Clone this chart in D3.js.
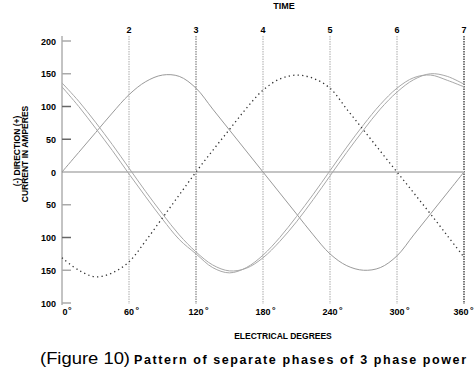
<!DOCTYPE html>
<html><head><meta charset="utf-8">
<script src="https://cdn.jsdelivr.net/npm/d3@7"></script>
<style>body{margin:0;background:#fff}svg{display:block}text{fill:#000}</style>
</head><body>
<script>
// ---- data ----
const degrees = [0,15,30,45,60,75,90,105,120,135,150,165,180,195,210,225,240,255,270,285,300,315,330,345,360];
const phaseA  = [0,30,60,90,118,138,148,146,128,96,64,32,0,-32,-64,-96,-125,-143,-150,-146,-128,-96,-64,-32,0];
const phaseB  = [136,108,76,42,6,-30,-64,-96,-122,-142,-151,-147,-131,-106,-76,-42,-6,30,64,96,122,141,150,146,134];
const phaseB2 = [130,100,67,33,-3,-38,-72,-103,-125,-146,-154,-146,-127,-100,-68,-34,2,38,72,103,128,144,148,140,130];
const phaseC  = [-131,-150,-160,-154,-137,-105,-70,-35,0,33,65,97,125,142,148,143,128,96,64,32,0,-32,-64,-97,-130];
const yTickValues = [200,150,100,50,0,-50,-100,-150,-200];
const yTickLabels = ["200","150","100","50","0","50","100","150","100"];
const degTicks = [0,60,120,180,240,300,360];
const degLabels = ["0","60","120","180","240","300","360"];
const timeTicks = [60,120,180,240,300,360];
const timeLabels = ["2","3","4","5","6","7"];

const W = 476, H = 380;
const svg = d3.select("body").append("svg").attr("width", W).attr("height", H);
const x = d3.scaleLinear().domain([0,360]).range([62,464]);
const y = d3.scaleLinear().domain([-200,200]).range([303,41]);
const font = "'Liberation Sans', Arial, sans-serif";

// vertical time lines
const darkLines = new Set([120,360]);
svg.selectAll("line.v").data(timeTicks).join("line")
  .attr("x1", d => x(d)).attr("x2", d => x(d))
  .attr("y1", 36).attr("y2", 304)
  .attr("stroke", d => d === 360 ? "#555" : (darkLines.has(d) ? "#666" : "#aaa"))
  .attr("stroke-width", d => d === 360 ? 1.6 : 1)
  .attr("stroke-dasharray", "1.5,1");

// time labels
svg.selectAll("text.t").data(timeTicks).join("text")
  .attr("x", d => x(d)).attr("y", 33)
  .attr("text-anchor", "middle")
  .attr("font-family", font).attr("font-weight", "bold").attr("font-size", 9)
  .text((d,i) => timeLabels[i]);
svg.append("text").attr("x", 284).attr("y", 9).attr("text-anchor","middle")
  .attr("font-family", font).attr("font-weight","bold").attr("font-size", 9)
  .text("TIME");

// zero line
svg.append("line").attr("x1", x(0)).attr("x2", x(360))
  .attr("y1", y(0)).attr("y2", y(0))
  .attr("stroke", "#c4c4c4").attr("stroke-width", 2);

// y axis
svg.append("line").attr("x1", x(0)).attr("x2", x(0)).attr("y1", 36).attr("y2", 305)
  .attr("stroke", "#888").attr("stroke-width", 1);
svg.selectAll("line.yt").data(yTickValues.filter(v => v !== 0)).join("line")
  .attr("x1", x(0)).attr("x2", x(0) + 9)
  .attr("y1", d => y(d)).attr("y2", d => y(d))
  .attr("stroke", d => (d === 100 || d === 50 || d === -100) ? "#666" : "#aaa")
  .attr("stroke-width", 1.5);
svg.selectAll("text.yl").data(yTickValues).join("text")
  .attr("x", 56).attr("y", d => y(d) + 3.5)
  .attr("text-anchor", "end")
  .attr("font-family", font).attr("font-weight","bold").attr("font-size", 9)
  .text((d,i) => yTickLabels[i]);

// x labels (number + raised degree sign)
degTicks.forEach((d,i) => {
  let cx = x(d);
  if (d === 0) cx += 3;
  if (d === 360) cx -= 3;
  const t = svg.append("text").attr("x", cx).attr("y", 315).attr("text-anchor","middle")
    .attr("font-family", font).attr("font-weight","bold").attr("font-size", 9)
    .text(degLabels[i]);
  const w = t.node().getComputedTextLength();
  svg.append("text").attr("x", cx + w/2 + (d === 0 ? 0.5 : 1.5)).attr("y", 313)
    .attr("font-family", font).attr("font-weight","bold").attr("font-size", 9)
    .text("°");
});

// axis titles
svg.append("text").attr("x", 283).attr("y", 339).attr("text-anchor","middle")
  .attr("font-family", font).attr("font-weight","bold").attr("font-size", 8.5)
  .text("ELECTRICAL DEGREES");
svg.append("text").attr("transform","translate(19.5,151) rotate(-90)").attr("text-anchor","middle")
  .attr("font-family", font).attr("font-weight","bold").attr("font-size", 8.5)
  .text("(-) DIRECTION (+)");
svg.append("text").attr("transform","translate(28,154) rotate(-90)").attr("text-anchor","middle")
  .attr("font-family", font).attr("font-weight","bold").attr("font-size", 8.5)
  .text("CURRENT IN AMPERES");

// curves
const line = d3.line().x((d,i) => x(degrees[i])).y(d => y(d)).curve(d3.curveCatmullRom);
const series = [
  {v: phaseA, c: "#9a9a9a", w: 1, dash: null},
  {v: phaseB, c: "#a8a8a8", w: 1, dash: null},
  {v: phaseB2, c: "#a8a8a8", w: 1, dash: null},
  {v: phaseC, c: "#333", w: 1.3, dash: "1.3,3.2"}
];
series.forEach(s => {
  svg.append("path").attr("d", line(s.v)).attr("fill","none")
    .attr("stroke", s.c).attr("stroke-width", s.w)
    .attr("stroke-dasharray", s.dash);
});

// caption
svg.append("text").attr("x", 40).attr("y", 364)
  .attr("font-family", font).attr("font-size", 16)
  .attr("textLength", 90).attr("lengthAdjust","spacingAndGlyphs")
  .text("(Figure 10)");
svg.append("text").attr("x", 134).attr("y", 364)
  .attr("font-family", font).attr("font-weight","bold").attr("font-size", 12.5)
  .attr("textLength", 332).attr("lengthAdjust","spacing")
  .text("Pattern of separate phases of 3 phase power");
</script>
</body></html>
